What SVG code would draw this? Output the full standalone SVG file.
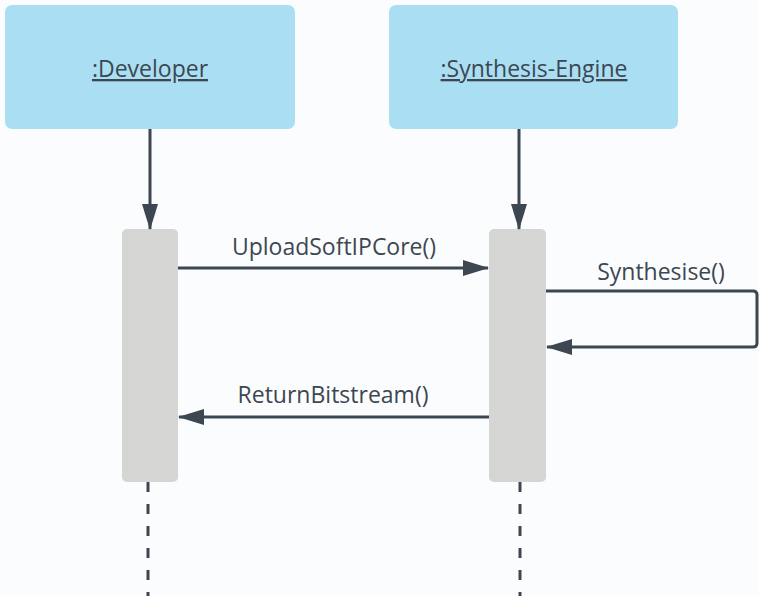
<svg xmlns="http://www.w3.org/2000/svg" width="759" height="596" viewBox="0 0 759 596">
  <defs>
    <style>
      .head { fill: #aadff3; }
      .act { fill: #d5d5d4; }
      .lbl { font-family: "Open Sans", "Liberation Sans", sans-serif; font-size: 23px; fill: #3d4752; text-anchor: middle; }
      .name { text-decoration: underline; }
      .msg { stroke: #3d4752; stroke-width: 3; fill: none; }
      .life { stroke: #3d4752; stroke-width: 3; fill: none; stroke-dasharray: 10 12; }
    </style>
    <marker id="arrow" viewBox="0 0 26 16" refX="25" refY="8" markerWidth="26" markerHeight="16" markerUnits="userSpaceOnUse" orient="auto">
      <path d="M0,0 L26,8 L0,16 Z" fill="#3d4752"/>
    </marker>
  </defs>

  <rect width="759" height="596" fill="#fbfcfd"/>

  <!-- lifeline heads -->
  <g id="developer">
    <rect class="head" x="5" y="5" width="290" height="124" rx="7"/>
    <text class="lbl name" x="150" y="77">:Developer</text>
  </g>
  <g id="synthesis-engine">
    <rect class="head" x="389" y="5" width="289" height="124" rx="7"/>
    <text class="lbl name" x="534" y="77">:Synthesis-Engine</text>
  </g>

  <!-- activation bars -->
  <g id="developer-activation">
    <rect class="act" x="122" y="229" width="56" height="253" rx="5"/>
  </g>
  <g id="engine-activation">
    <rect class="act" x="489" y="229" width="57" height="253" rx="5"/>
  </g>

  <!-- connectors -->
  <g id="connectors">
    <line class="msg" x1="150" y1="129" x2="150" y2="229" marker-end="url(#arrow)"/>
    <line class="msg" x1="519" y1="129" x2="519" y2="229" marker-end="url(#arrow)"/>

    <line class="life" x1="148" y1="482" x2="148" y2="596"/>
    <line class="life" x1="520" y1="482" x2="520" y2="596"/>

    <line class="msg" x1="178" y1="268" x2="488" y2="268" marker-end="url(#arrow)"/>
    <text class="lbl" x="334" y="255">UploadSoftIPCore()</text>

    <path class="msg" d="M546,291 H753 Q757,291 757,295 V343 Q757,347 753,347 H547" marker-end="url(#arrow)"/>
    <text class="lbl" x="661" y="280">Synthesise()</text>

    <line class="msg" x1="489" y1="417" x2="179" y2="417" marker-end="url(#arrow)"/>
    <text class="lbl" x="333" y="403">ReturnBitstream()</text>
  </g>
</svg>
